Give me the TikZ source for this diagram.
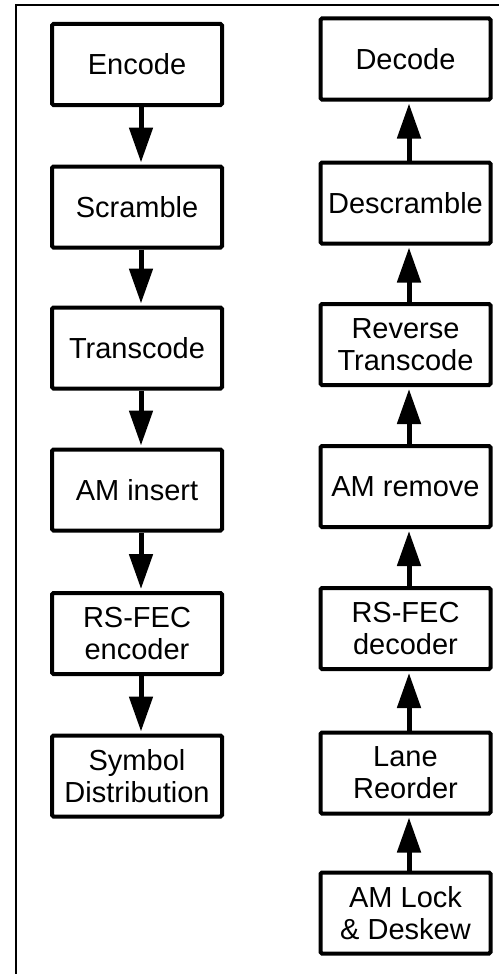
\documentclass[tikz,border=0pt]{standalone}
\usepackage{fontspec}
\setmainfont{Liberation Sans}
\usetikzlibrary{arrows.meta}
\begin{document}
\begin{tikzpicture}[x=1pt,y=-1pt,
  blk/.style={draw=black, line width=4pt, minimum width=170pt, minimum height=81pt,
    inner sep=0pt, align=center, font=\fontsize{29}{32}\selectfont, rounded corners=1.5pt},
  flow/.style={line width=5pt, -{Triangle[length=35pt,width=23pt]}, shorten >=2pt}]
\useasboundingbox (0,0) rectangle (498,974);
\draw[line width=2pt] (16,975) -- (16,5) -- (499,5);
% left column
\node[blk] (enc) at (137,64.5) {Encode};
\node[blk] (scr) at (137,207) {Scramble};
\node[blk] (trc) at (137,348) {Transcode};
\node[blk] (ami) at (137,490) {AM insert};
\node[blk] (rse) at (137,633.5) {RS-FEC\\encoder};
\node[blk] (sym) at (137,776) {Symbol\\Distribution};
% right column
\node[blk] (dec) at (405.5,59) {Decode};
\node[blk] (dsc) at (405.5,203) {Descramble};
\node[blk] (rtc) at (405.5,344.5) {Reverse\\Transcode};
\node[blk] (amr) at (405.5,486.5) {AM remove};
\node[blk] (rsd) at (405.5,628.5) {RS-FEC\\decoder};
\node[blk] (lro) at (405.5,773) {Lane\\Reorder};
\node[blk] (aml) at (405.5,913) {AM Lock\\\& Deskew};
% down arrows
\foreach \a/\b in {enc/scr,scr/trc,trc/ami,ami/rse,rse/sym}
  \draw[flow] ([xshift=4pt]\a.south) -- ([xshift=4pt]\b.north);
% up arrows
\foreach \a/\b in {aml/lro,lro/rsd,rsd/amr,amr/rtc,rtc/dsc,dsc/dec}
  \draw[flow] ([xshift=3.5pt]\a.north) -- ([xshift=3.5pt]\b.south);
\end{tikzpicture}
\end{document}
